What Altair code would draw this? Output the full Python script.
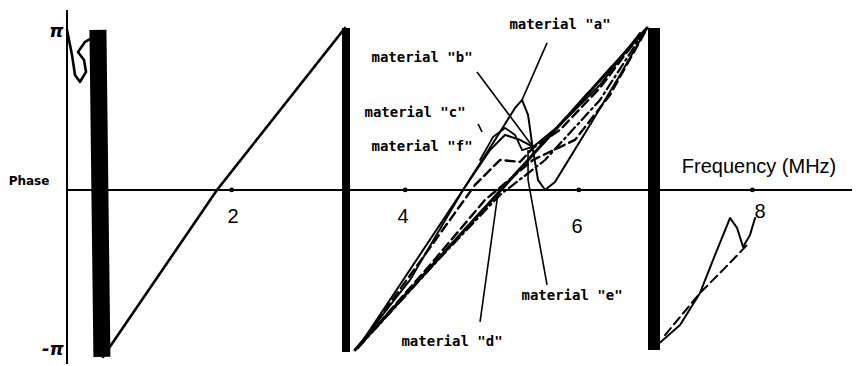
import altair as alt
import pandas as pd

# ---- data (frequency in MHz, phase in units of pi) ----
seg2_x = [0.518, 1.832, 3.306]
seg2_y = [-1.037, 0.0, 1.006]

main3_x = [3.422, 5.104, 6.786]
main3_y = [-0.994, 0.0, 1.006]

mat_a_x = [3.422, 4.055, 4.666, 5.035, 5.265, 5.346, 5.415, 5.472, 5.530, 5.611, 5.726, 6.129, 6.475, 6.786]
mat_a_y = [-0.994, -0.559, 0.0, 0.311, 0.509, 0.559, 0.466, 0.248, 0.062, 0.0, 0.050, 0.404, 0.714, 1.006]

mat_c_x = [3.456, 4.666, 4.977, 5.150, 5.323, 5.472, 5.783, 6.244, 6.705]
mat_c_y = [-0.981, 0.0, 0.248, 0.342, 0.311, 0.267, 0.404, 0.652, 0.975]

mat_b_x = [4.862, 5.012, 5.150, 5.265, 5.346, 5.472]
mat_b_y = [0.186, 0.329, 0.385, 0.342, 0.248, 0.267]

mat_f_x = [3.479, 4.804, 5.092, 5.323, 5.472, 5.783, 6.244, 6.705]
mat_f_y = [-0.963, 0.031, 0.186, 0.174, 0.261, 0.373, 0.634, 0.963]

mat_e_x = [3.479, 4.286, 4.919, 5.472, 5.956, 6.359, 6.763]
mat_e_y = [-0.963, -0.466, -0.062, 0.186, 0.311, 0.590, 0.981]

mat_d_x = [3.456, 4.401, 5.092, 5.611, 6.244, 6.763]
mat_d_y = [-0.981, -0.422, -0.031, 0.186, 0.559, 0.994]

seg4_x = [6.878, 7.166, 7.396, 7.569, 7.742, 7.823, 7.892, 7.972, 8.030]
seg4_y = [-0.975, -0.839, -0.640, -0.404, -0.174, -0.236, -0.354, -0.280, -0.174]

seg4d_x = [6.993, 7.396, 7.684, 7.938]
seg4d_y = [-0.901, -0.640, -0.484, -0.342]

squig_x = [0.104, 0.161, 0.196, 0.253, 0.323, 0.300, 0.230, 0.311, 0.392]
squig_y = [0.994, 0.839, 0.714, 0.671, 0.733, 0.807, 0.857, 0.919, 0.944]

# phase wraps (-pi <-> pi jumps), drawn as heavy bands
wrap_x = [0.460, 3.318, 6.866]
wrap_x2 = [0.506, 3.318, 6.866]
wrap_top = [0.994, 1.006, 1.006]
wrap_bot = [-1.037, -1.006, -0.994]
wrap_w = [17, 8, 12]

# axes
yaxis_x = 0.104
yaxis_top, yaxis_bot = 1.118, -1.081
xaxis_from, xaxis_to = 0.104, 9.147
tick_vals = [2, 4, 6, 8]
tick_label_x = [2.016, 3.975, 5.979, 8.088]
tick_label_y = [-0.168, -0.168, -0.230, -0.137]
tick_labels = ["2", "4", "6", "8"]

# material labels and leader lines
mat_labels = ['material "a"', 'material "b"', 'material "c"', 'material "f"', 'material "e"', 'material "d"']
mat_label_x = [5.783, 4.194, 4.113, 4.194, 5.922, 4.539]
mat_label_y = [1.025, 0.820, 0.478, 0.267, -0.658, -0.944]

lead_x = [5.634, 4.827, 4.839, 5.634, 5.415, 4.862]
lead_y = [0.913, 0.733, 0.410, -0.590, 0.062, -0.820]
lead_x2 = [5.346, 5.472, 4.885, 5.415, 5.415, 5.069]
lead_y2 = [0.559, 0.267, 0.360, 0.062, 0.248, -0.019]

XDOM = [-0.576, 9.147]
YDOM = [-1.081, 1.130]

# ---- build tables ----
curves = [
    ("seg2", seg2_x, seg2_y, "solid", 2.6),
    ("main3", main3_x, main3_y, "solid", 3.0),
    ("a", mat_a_x, mat_a_y, "solid", 2.0),
    ("c", mat_c_x, mat_c_y, "solid", 2.0),
    ("b", mat_b_x, mat_b_y, "solid", 1.8),
    ("f", mat_f_x, mat_f_y, "dash", 2.4),
    ("e", mat_e_x, mat_e_y, "dash", 2.4),
    ("d", mat_d_x, mat_d_y, "dashdot", 2.2),
    ("seg4", seg4_x, seg4_y, "solid", 2.0),
    ("seg4d", seg4d_x, seg4d_y, "dash", 2.0),
    ("squig", squig_x, squig_y, "solid", 2.6),
]
rows = []
for name, xs_, ys_, dash, w in curves:
    for i, (xv, yv) in enumerate(zip(xs_, ys_)):
        rows.append({"curve": name, "x": xv, "y": yv, "o": i, "dash": dash, "w": w})
lines_df = pd.DataFrame(rows)

xs = alt.Scale(domain=XDOM, nice=False, zero=False)
ys = alt.Scale(domain=YDOM, nice=False, zero=False)
X = lambda f: alt.X(f, type="quantitative", scale=xs, axis=None)
Y = lambda f: alt.Y(f, type="quantitative", scale=ys, axis=None)

lines = alt.Chart(lines_df).mark_line(color="black", strokeCap="round", strokeJoin="round").encode(
    x=X("x"), y=Y("y"), detail="curve:N", order="o:Q",
    strokeDash=alt.StrokeDash("dash:N", scale=alt.Scale(domain=["solid", "dash", "dashdot"],
                              range=[[1, 0], [9, 5], [10, 4, 2, 4]]), legend=None),
    strokeWidth=alt.StrokeWidth("w:Q", scale=None),
)

wrap_df = pd.DataFrame({"x": wrap_x, "x2": wrap_x2, "y": wrap_top, "y2": wrap_bot, "w": wrap_w})
wraps = alt.Chart(wrap_df).mark_rule(color="black", strokeCap="butt").encode(
    x=X("x"), x2="x2", y=Y("y"), y2="y2", strokeWidth=alt.StrokeWidth("w:Q", scale=None))

axes_df = pd.DataFrame({"x": [yaxis_x, xaxis_from], "x2": [yaxis_x, xaxis_to],
                        "y": [yaxis_top, 0.0], "y2": [yaxis_bot, 0.0]})
axes = alt.Chart(axes_df).mark_rule(color="black", strokeWidth=2).encode(
    x=X("x"), x2="x2", y=Y("y"), y2="y2")

dots = alt.Chart(pd.DataFrame({"x": tick_vals, "y": [0.0] * 4})).mark_point(
    filled=True, color="black", size=22, opacity=1).encode(x=X("x"), y=Y("y"))

tl = alt.Chart(pd.DataFrame({"x": tick_label_x, "y": tick_label_y, "t": tick_labels})).mark_text(
    font="Liberation Sans", fontSize=20, color="black", align="center", baseline="middle").encode(
    x=X("x"), y=Y("y"), text="t:N")

ml = alt.Chart(pd.DataFrame({"x": mat_label_x, "y": mat_label_y, "t": mat_labels})).mark_text(
    font="DejaVu Sans Mono", fontSize=14, fontWeight="bold", color="black", align="center",
    baseline="middle").encode(x=X("x"), y=Y("y"), text="t:N")

leads = alt.Chart(pd.DataFrame({"x": lead_x, "y": lead_y, "x2": lead_x2, "y2": lead_y2})).mark_rule(
    color="black", strokeWidth=1.6).encode(x=X("x"), y=Y("y"), x2="x2", y2="y2")

pi_lab = alt.Chart(pd.DataFrame({"x": [-0.02, -0.06], "y": [0.981, -0.995], "t": ["π", "-π"]})).mark_text(
    font="DejaVu Sans", fontSize=18, fontStyle="italic", fontWeight="bold", color="black",
    align="center", baseline="middle").encode(x=X("x"), y=Y("y"), text="t:N")

phase_lab = alt.Chart(pd.DataFrame({"x": [-0.334], "y": [0.056], "t": ["Phase"]})).mark_text(
    font="DejaVu Sans", fontSize=12, fontWeight="bold", color="black",
    align="center", baseline="middle").encode(x=X("x"), y=Y("y"), text="t:N")

freq_lab = alt.Chart(pd.DataFrame({"x": [8.076], "y": [0.143], "t": ["Frequency (MHz)"]})).mark_text(
    font="Liberation Sans", fontSize=20, color="black", align="center", baseline="middle").encode(
    x=X("x"), y=Y("y"), text="t:N")

chart = alt.layer(axes, wraps, lines, leads, dots, tl, ml, pi_lab, phase_lab, freq_lab).properties(
    width=844, height=356, padding=0, autosize=alt.AutoSizeParams(type="none"),
    background="white").configure_view(stroke=None)

chart.save("out.html", embed_options={"renderer": "svg", "actions": False})
